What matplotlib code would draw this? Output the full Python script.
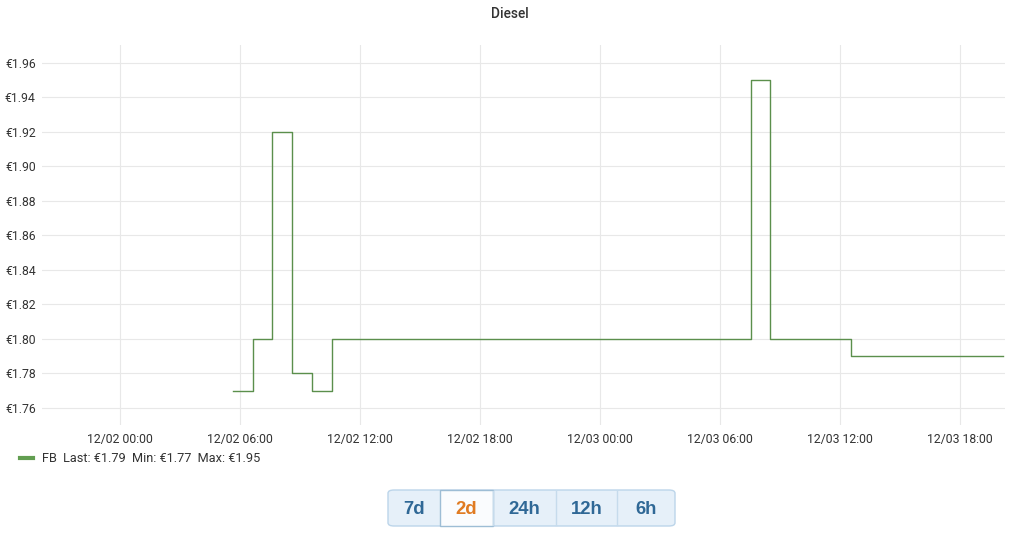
import pandas as pd
import numpy as np
import matplotlib
matplotlib.use("Agg")
import matplotlib.pyplot as plt
import matplotlib.dates as mdates
from matplotlib.patches import FancyBboxPatch, Rectangle

plt.rcParams['font.family'] = ['Roboto', 'DejaVu Sans']

# price changes for station FB (step function, value holds until next change)
times = ['2022-12-02 05:39', '2022-12-02 06:39', '2022-12-02 07:36',
         '2022-12-02 08:36', '2022-12-02 09:36', '2022-12-02 10:36',
         '2022-12-03 07:33', '2022-12-03 08:30', '2022-12-03 12:33',
         '2022-12-03 20:09']
prices = [1.77, 1.80, 1.92, 1.78, 1.77, 1.80, 1.95, 1.80, 1.79, 1.79]
series_name = 'FB'

y_ticks = [1.76, 1.78, 1.80, 1.82, 1.84, 1.86, 1.88, 1.90, 1.92, 1.94, 1.96]
ranges = ['7d', '2d', '24h', '12h', '6h']
selected_range = '2d'

W, H = 1020, 536
fig = plt.figure(figsize=(W / 100, H / 100), dpi=100)


def fx(px):
    return px / W


def fy(py):
    return 1 - py / H


ax = fig.add_axes([fx(42), fy(425), fx(1005) - fx(42), fy(45) - fy(425)])

t = pd.to_datetime(times)
line_color = '#629e51'
ax.step(t, prices, where='post', color='#5b8f4c', lw=1.0)

ax.set_xlim(pd.Timestamp('2022-12-01 20:06'), pd.Timestamp('2022-12-03 20:15'))
ax.set_ylim(1.7501, 1.9704)
ax.set_yticks(y_ticks)
ax.set_yticklabels(['€%.2f' % v for v in y_ticks])
ax.xaxis.set_major_locator(mdates.HourLocator(byhour=[0, 6, 12, 18]))
ax.xaxis.set_major_formatter(mdates.DateFormatter('%m/%d %H:%M'))

for s in ax.spines.values():
    s.set_visible(False)
ax.grid(True, color='#e8e8e8', lw=0.8)
ax.set_axisbelow(True)
ax.tick_params(axis='both', length=0, labelsize=8.8, colors='#333333')
ax.tick_params(axis='y', pad=4.5)
ax.tick_params(axis='x', pad=5.5)

# title
fig.text(0.5, fy(14), 'Diesel', ha='center', va='center', fontsize=9.8,
         fontweight='medium', color='#333333')

# legend with stats
label = '%s  Last: €%.2f  Min: €%.2f  Max: €%.2f' % (
    series_name, prices[-1], min(prices), max(prices))
handle = plt.Line2D([], [], color=line_color, lw=3)
fig.legend([handle], [label], loc='center left', bbox_to_anchor=(fx(20), fy(459)),
           frameon=False, fontsize=9.2, handlelength=1.05, handletextpad=0.7,
           borderpad=0, borderaxespad=0, labelcolor='#333333')

# range buttons
edges = [388, 440, 493, 556, 617, 675]
top, bottom = 490, 526
group = FancyBboxPatch((fx(edges[0]), fy(bottom)), fx(edges[-1] - edges[0]),
                       fy(top) - fy(bottom), boxstyle='round,pad=0,rounding_size=0.006',
                       transform=fig.transFigure, facecolor='#e6f0f9',
                       edgecolor='#bcd5ea', lw=1)
fig.add_artist(group)
for i, r in enumerate(ranges):
    x0, x1 = edges[i], edges[i + 1]
    if r == selected_range:
        fig.add_artist(Rectangle((fx(x0), fy(bottom)), fx(x1 - x0), fy(top) - fy(bottom),
                                 transform=fig.transFigure, facecolor='#fafcfe',
                                 edgecolor='#9dbdd5', lw=1))
        color = '#e07b22'
    else:
        color = '#2f6896'
        if 0 < i:
            fig.add_artist(plt.Line2D([fx(x0), fx(x0)], [fy(bottom - 1), fy(top + 1)],
                                      transform=fig.transFigure, color='#c6dbec', lw=1))
    fig.text(fx((x0 + x1) / 2), fy(509), r, ha='center', va='center', fontsize=13.3,
             fontweight='bold', family=['Liberation Sans', 'DejaVu Sans'], color=color)

fig.savefig('out.png', dpi=100)
